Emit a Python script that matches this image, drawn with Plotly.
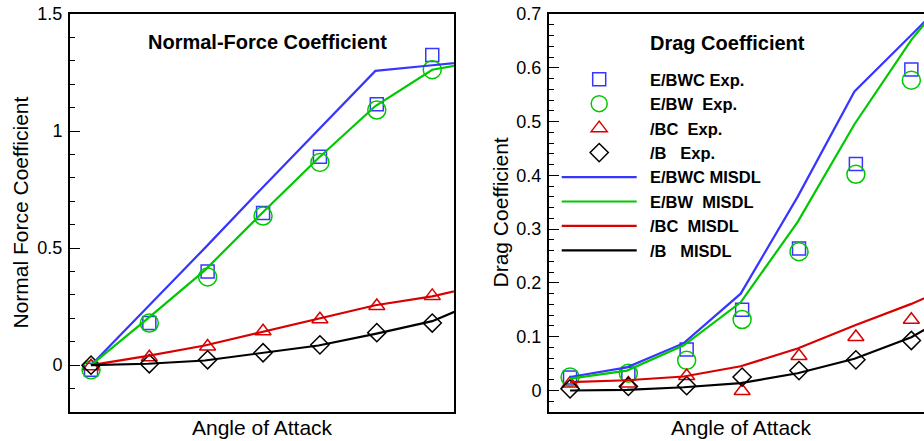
import plotly.graph_objects as go

# ---------------------------------------------------------------- data
alpha_exp = [0, 4.1, 8.2, 12.1, 16.1, 20.1, 24.0]
alpha_misdl = [0, 4, 8, 12, 16, 20, 24, 28]

# Normal-force coefficient
cn_ebwc_exp = [-0.02, 0.18, 0.40, 0.65, 0.89, 1.115, 1.325]
cn_ebw_exp = [-0.02, 0.18, 0.377, 0.637, 0.866, 1.09, 1.262]
cn_bc_exp = [-0.005, 0.034, 0.080, 0.145, 0.196, 0.253, 0.296]
cn_b_exp = [0.0, 0.006, 0.023, 0.053, 0.087, 0.139, 0.18]
cn_ebwc_misdl = [0, 0.25, 0.50, 0.755, 1.005, 1.257, 1.281, 1.304]
cn_ebw_misdl = [0, 0.20, 0.405, 0.648, 0.885, 1.107, 1.262, 1.305]
cn_bc_misdl = [0, 0.04, 0.084, 0.141, 0.199, 0.256, 0.294, 0.35]
cn_b_misdl = [0, 0.006, 0.02, 0.051, 0.084, 0.134, 0.188, 0.29]

# Drag coefficient
cd_ebwc_exp = [0.024, 0.031, 0.076, 0.150, 0.264, 0.421, 0.597]
cd_ebw_exp = [0.025, 0.032, 0.056, 0.132, 0.258, 0.402, 0.577]
cd_bc_exp = [0.013, 0.013, 0.027, -0.001, 0.064, 0.0995, 0.1316]
cd_b_exp = [0.003, 0.0075, 0.009, 0.025, 0.037, 0.057, 0.093]
cd_ebwc_misdl = [0.025, 0.043, 0.088, 0.18, 0.36, 0.556, 0.661, 0.766]
cd_ebw_misdl = [0.022, 0.037, 0.084, 0.164, 0.313, 0.495, 0.652, 0.78]
cd_bc_misdl = [0.0155, 0.019, 0.026, 0.045, 0.078, 0.121, 0.161, 0.207]
cd_b_misdl = [0, 0.001, 0.006, 0.0136, 0.032, 0.059, 0.099, 0.16]

configs = ["E/BWC", "E/BW", "/BC", "/B"]
exp_labels = ["E/BWC Exp.", "E/BW\u00a0\u00a0Exp.", "/BC\u00a0\u00a0Exp.", "/B\u00a0\u00a0\u00a0Exp."]
misdl_labels = ["E/BWC MISDL", "E/BW\u00a0\u00a0MISDL", "/BC\u00a0\u00a0MISDL", "/B\u00a0\u00a0\u00a0MISDL"]

# ---------------------------------------------------------------- style
colors = ["#3636ff", "#00c800", "#d80000", "#000000"]
symbols = ["square-open", "circle-open", "triangle-up-open", "diamond-open"]
sizes = [13, 18, 14, 14]
FONT = "Liberation Sans, Arial, sans-serif"

W, H = 924, 441
MT, MB = 14, 29


def px_x(px):
    return px / W


def px_y(py):
    return (H - MB - py) / (H - MT - MB)


fig = go.Figure()

cn_exp = [cn_ebwc_exp, cn_ebw_exp, cn_bc_exp, cn_b_exp]
cn_misdl = [cn_ebwc_misdl, cn_ebw_misdl, cn_bc_misdl, cn_b_misdl]
cd_exp = [cd_ebwc_exp, cd_ebw_exp, cd_bc_exp, cd_b_exp]
cd_misdl = [cd_ebwc_misdl, cd_ebw_misdl, cd_bc_misdl, cd_b_misdl]

# left panel: normal force
for i in range(4):
    fig.add_trace(go.Scatter(
        x=alpha_exp, y=cn_exp[i], mode="markers", showlegend=False,
        marker=dict(symbol=symbols[i], size=sizes[i], color=colors[i],
                    line=dict(width=1.5, color=colors[i])),
        xaxis="x", yaxis="y"))
for i in range(4):
    fig.add_trace(go.Scatter(
        x=alpha_misdl, y=cn_misdl[i], mode="lines", showlegend=False,
        line=dict(color=colors[i], width=2.2),
        xaxis="x", yaxis="y"))

# right panel: drag (carries the legend)
for i in range(4):
    fig.add_trace(go.Scatter(
        x=alpha_exp, y=cd_exp[i], mode="markers", name="\u2002" + exp_labels[i],
        marker=dict(symbol=symbols[i], size=sizes[i], color=colors[i],
                    line=dict(width=1.5, color=colors[i])),
        xaxis="x2", yaxis="y2"))
for i in range(4):
    fig.add_trace(go.Scatter(
        x=alpha_misdl, y=cd_misdl[i], mode="lines", name="\u2002" + misdl_labels[i],
        line=dict(color=colors[i], width=2.2),
        xaxis="x2", yaxis="y2"))

axis_common = dict(showgrid=False, zeroline=False, showline=True,
                   linecolor="black", linewidth=2)
tick_font = dict(family=FONT, size=18, color="black")

fig.update_layout(
    width=W, height=H,
    margin=dict(l=0, r=0, t=MT, b=MB, pad=0),
    template="none",
    paper_bgcolor="white", plot_bgcolor="white",
    xaxis=dict(domain=[px_x(70), px_x(454)], range=[-1.48, 25.53],
               showticklabels=False, ticks="", mirror=True, anchor="y",
               **axis_common),
    yaxis=dict(domain=[0, 1], range=[-0.2, 1.5], tick0=0, dtick=0.5,
               ticks="inside", ticklen=10, tickwidth=1.3, tickcolor="black",
               minor=dict(dtick=0.1, ticks="inside", ticklen=5,
                          tickwidth=1.3, tickcolor="black"),
               tickfont=tick_font, ticklabelstandoff=2,
               mirror=True, anchor="x", **axis_common),
    xaxis2=dict(domain=[px_x(549), 1], range=[-1.48, 24.89],
                showticklabels=False, ticks="", mirror=True, anchor="y2",
                **axis_common),
    yaxis2=dict(domain=[0, 1], range=[-0.04, 0.7], tick0=0, dtick=0.1,
                ticks="inside", ticklen=10, tickwidth=1.3, tickcolor="black",
                minor=dict(dtick=0.02, ticks="inside", ticklen=5,
                           tickwidth=1.3, tickcolor="black"),
                tickfont=tick_font, ticklabelstandoff=2,
                mirror=False, anchor="x2", **axis_common),
    legend=dict(x=px_x(556.7), y=px_y(62), xanchor="left", yanchor="top",
                bgcolor="rgba(0,0,0,0)", borderwidth=0, itemwidth=75,
                font=dict(family=FONT, size=16.5, color="black", weight="bold"),
                tracegroupgap=0),
    showlegend=True,
)

title_font = dict(family=FONT, size=20, color="black", weight="bold")
label_font = dict(family=FONT, size=21, color="black")

annotations = [
    dict(text="Normal-Force Coefficient", x=px_x(267.8), y=px_y(42),
         xanchor="center", yanchor="middle", font=title_font),
    dict(text="Drag Coefficient", x=px_x(648), y=px_y(43),
         xanchor="left", yanchor="middle", font=title_font),
    dict(text="Angle of Attack", x=px_x(262), y=px_y(427),
         xanchor="center", yanchor="middle", font=label_font),
    dict(text="Angle of Attack", x=px_x(741), y=px_y(427),
         xanchor="center", yanchor="middle", font=label_font),
    dict(text="Normal Force Coefficient", x=px_x(20), y=px_y(212.5),
         xanchor="center", yanchor="middle", textangle=-90, font=label_font),
    dict(text="Drag Coefficient", x=px_x(500), y=px_y(212.5),
         xanchor="center", yanchor="middle", textangle=-90, font=label_font),
]
for a in annotations:
    a.update(xref="paper", yref="paper", showarrow=False)
fig.update_layout(annotations=annotations)

fig.write_html("out.html", config={"displayModeBar": False})
